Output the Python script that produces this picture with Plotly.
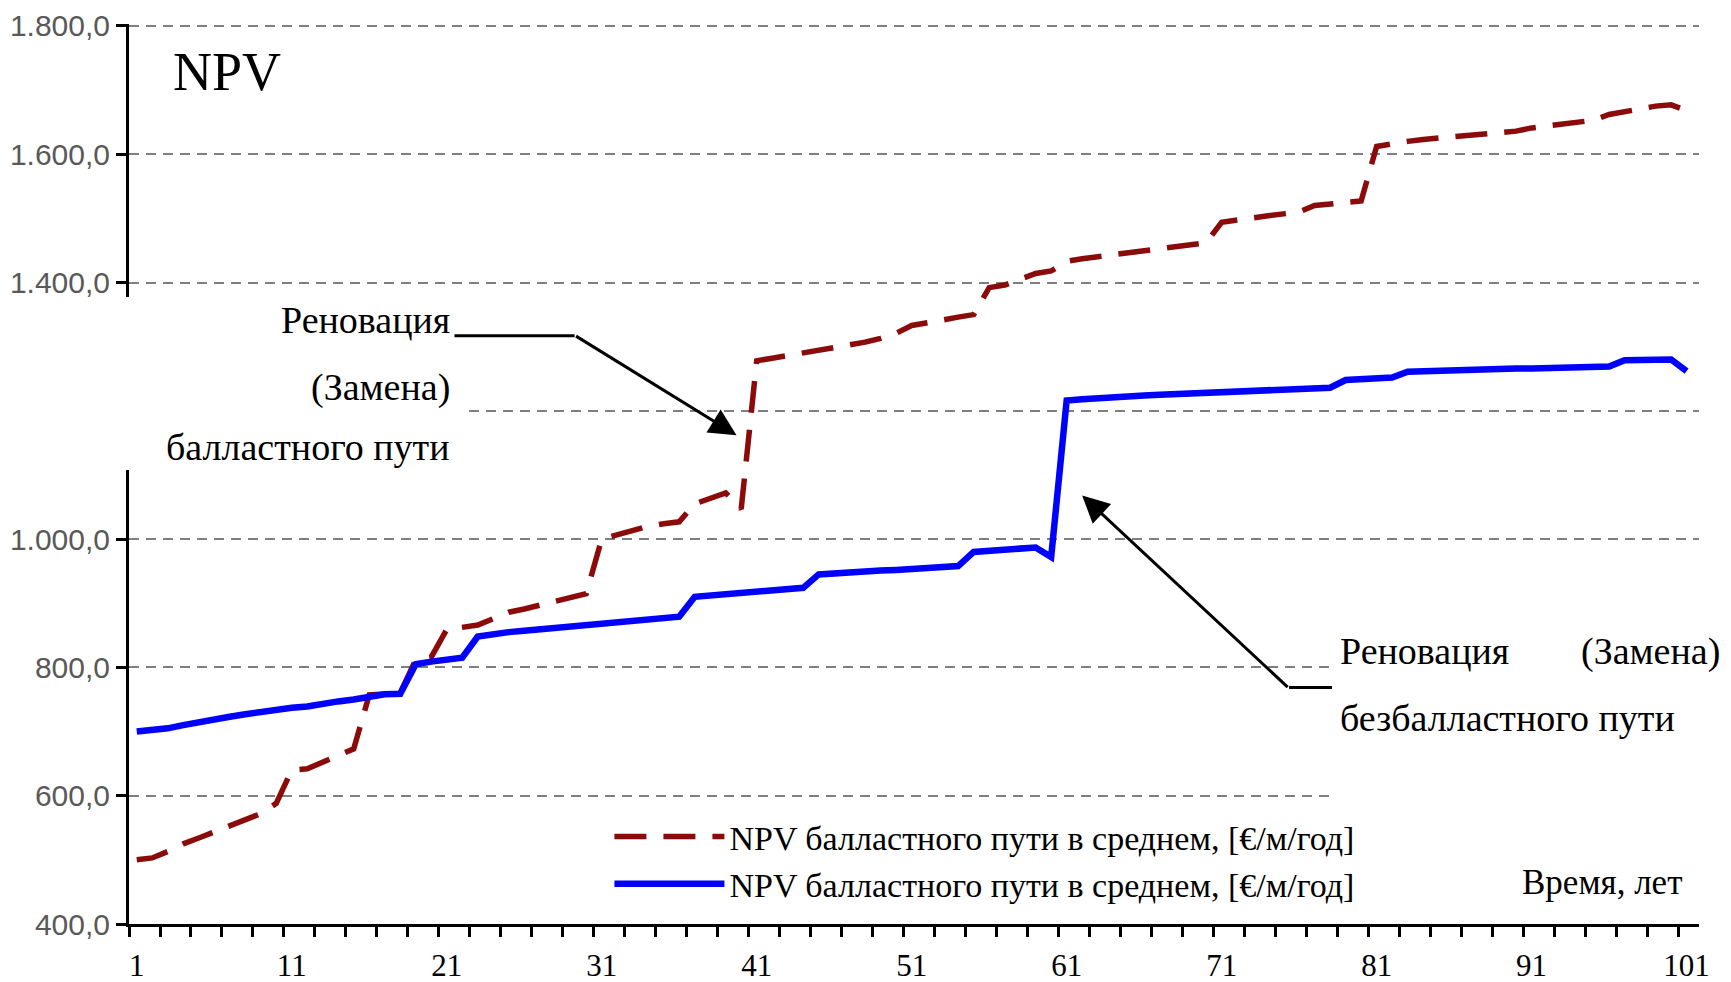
import plotly.graph_objects as go

# ---------------- data ----------------
years = list(range(1, 102))

npv_ballast = [
    500, 503, 513, 525, 534, 543, 552, 562, 572, 588,
    640, 642, 652, 661, 673, 757, 758, 760, 812, 816,
    859, 862, 866, 876, 886, 891, 897, 904, 910, 915,
    1000, 1007, 1013, 1020, 1024, 1027, 1055, 1063, 1072, 1047,
    1278, 1282, 1286, 1292, 1296, 1300, 1303, 1307, 1313, 1321,
    1333, 1338, 1343, 1346, 1350, 1392, 1396, 1405, 1414, 1418,
    1433, 1437, 1440, 1445, 1448, 1451, 1453, 1456, 1459, 1462,
    1494, 1498, 1501, 1504, 1507, 1510, 1520, 1523, 1526, 1527,
    1612, 1617, 1620, 1623, 1625, 1627, 1629, 1630, 1633, 1636,
    1641, 1644, 1647, 1649, 1653, 1662, 1667, 1671, 1675, 1677,
    1668,
]

npv_slab = [
    700, 702, 705, 710, 715, 719, 723, 727, 731, 734,
    737, 739, 744, 747, 750, 754, 758, 759, 805, 809,
    812, 815, 848, 852, 855, 857, 859, 861, 863, 865,
    868, 870, 872, 874, 876, 879, 910, 912, 914, 916,
    918, 920, 922, 924, 945, 947, 948, 950, 951, 952,
    953, 954, 956, 958, 980, 982, 983, 985, 987, 972,
    1216, 1218, 1220, 1222, 1223, 1224, 1225, 1226, 1227, 1228,
    1229, 1230, 1231, 1232, 1233, 1234, 1235, 1236, 1248, 1250,
    1251, 1252, 1261, 1262, 1263, 1264, 1264, 1265, 1265, 1266,
    1266, 1267, 1267, 1268, 1268, 1269, 1279, 1280, 1280, 1280,
    1262,
]

series_names = [
    "NPV балластного пути в среднем, [€/м/год]",
    "NPV балластного пути в среднем, [€/м/год]",
]

x_tick_values = [1, 11, 21, 31, 41, 51, 61, 71, 81, 91, 101]
x_minor_ticks = [0.5 + 2 * k for k in range(51)]
y_tick_values = [400, 600, 800, 1000, 1200, 1400, 1600, 1800]
y_tick_labels = ["400,0", "600,0", "800,0", "1.000,0", "1.200,0", "1.400,0", "1.600,0", "1.800,0"]

SERIF = "Liberation Serif, Times New Roman, serif"
SANS = "Liberation Sans, Arial, sans-serif"

fig = go.Figure()

fig.add_trace(go.Scatter(
    x=years, y=npv_ballast, mode="lines", name=series_names[0],
    line=dict(color="#8B0A0A", width=5.5, dash="32px,17px"),
))
fig.add_trace(go.Scatter(
    x=years, y=npv_slab, mode="lines", name=series_names[1],
    line=dict(color="#0000FF", width=6.5),
))

fig.update_layout(
    template="none",
    width=1723, height=974, autosize=False,
    margin=dict(l=121, r=32, t=16, b=58, pad=0),
    paper_bgcolor="white", plot_bgcolor="white",
    showlegend=True,
    legend=dict(
        x=0.306, y=0.129, xanchor="left", yanchor="top",
        font=dict(family=SERIF, size=34, color="black"),
        bgcolor="rgba(255,255,255,0)", tracegroupgap=0, itemwidth=110,
        borderwidth=0,
    ),
)

fig.update_xaxes(
    range=[0.5, 101.8], showgrid=False, zeroline=False, automargin=False,
    showline=True, linecolor="black", linewidth=3,
    tickmode="array", tickvals=x_tick_values, ticktext=[str(v) for v in x_tick_values],
    ticks="", ticklabelstandoff=12, ticklabeloverflow="allow",
    tickfont=dict(family=SERIF, size=31, color="black"),
    minor=dict(tickmode="array", tickvals=x_minor_ticks, ticks="outside",
               ticklen=10, tickwidth=2.5, tickcolor="black", showgrid=False),
)

fig.update_yaxes(
    range=[400, 1803], zeroline=False, automargin=False,
    showline=True, linecolor="black", linewidth=3,
    tickmode="array", tickvals=y_tick_values, ticktext=y_tick_labels,
    ticks="outside", ticklen=10, tickwidth=2.5, tickcolor="black",
    ticklabeloverflow="allow",
    tickfont=dict(family=SANS, size=30, color="#595959"),
    showgrid=True, gridcolor="#7f7f7f", gridwidth=2, griddash="10px,7px",
)

# white text boxes (cover axis / gridlines as in the original)
fig.add_shape(type="rect", xref="paper", yref="paper",
              x0=-0.09, x1=0.2121, y0=0.5044, y1=0.6967,
              fillcolor="white", line=dict(width=0), layer="above")
fig.add_shape(type="rect", xref="paper", yref="paper",
              x0=0.765, x1=1.1, y0=0.1322, y1=0.3267,
              fillcolor="white", line=dict(width=0), layer="above")

# horizontal parts of the callout arrows
fig.add_shape(type="line", xref="x", yref="y", x0=21.5, x1=29.25, y0=1317, y1=1317,
              line=dict(color="black", width=3), layer="above")
fig.add_shape(type="line", xref="x", yref="y", x0=75.35, x1=78.12, y0=768.5, y1=768.5,
              line=dict(color="black", width=3), layer="above")

# arrows
fig.add_annotation(x=39.7, y=1162, xref="x", yref="y", text="", showarrow=True,
                   ax=-162, ay=-100, arrowhead=2, arrowsize=1.8, arrowwidth=3,
                   arrowcolor="black", standoff=0)
fig.add_annotation(x=62.0, y=1068, xref="x", yref="y", text="", showarrow=True,
                   ax=207, ay=193, arrowhead=2, arrowsize=1.8, arrowwidth=3,
                   arrowcolor="black", standoff=0)

def txt(text, x, y, xanchor, size=38):
    fig.add_annotation(x=x, y=y, xref="paper", yref="paper", text=text,
                       showarrow=False, xanchor=xanchor, yanchor="middle",
                       font=dict(family=SERIF, size=size, color="black"))

txt("NPV", 0.0267, 0.9467, "left", size=54)
txt("Реновация", 0.2057, 0.6711, "right")
txt("(Замена)", 0.2057, 0.5956, "right")
txt("балластного пути", 0.2057, 0.530, "right")
txt("Реновация", 0.770, 0.3033, "left")
txt("(Замена)", 1.0145, 0.3033, "right")
txt("безбалластного пути", 0.770, 0.2289, "left")
txt("Время, лет", 0.9904, 0.0456, "right", size=35)

fig.write_html("out.html")
